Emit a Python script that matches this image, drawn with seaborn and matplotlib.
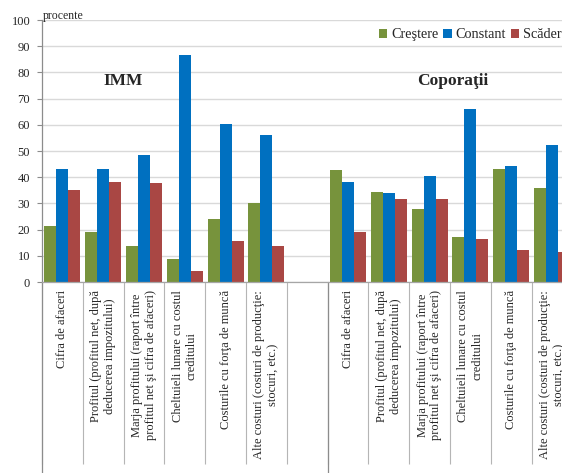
import numpy as np
import pandas as pd
import matplotlib
matplotlib.use("Agg")
import matplotlib.pyplot as plt
import seaborn as sns

# ---------------- data ----------------
indicators = [
    "Cifra de afaceri",
    "Profitul (profitul net, după\ndeducerea impozitului)",
    "Marja profitului (raport între\nprofitul net şi cifra de afaceri)",
    "Cheltuieli lunare cu costul\ncreditului",
    "Costurile cu forţa de muncă",
    "Alte costuri (costuri de producţie:\nstocuri, etc.)",
]
groups = ["IMM", "Coporaţii"]
series = ["Creştere", "Constant", "Scădere"]

imm_crestere = [21.5, 19.0, 13.6, 8.9, 23.9, 30.3]
imm_constant = [43.1, 43.1, 48.4, 86.6, 60.3, 56.1]
imm_scadere = [35.3, 38.0, 37.7, 4.1, 15.5, 13.6]

corp_crestere = [42.8, 34.4, 27.9, 17.1, 43.1, 35.7]
corp_constant = [38.0, 33.8, 40.6, 66.2, 44.2, 52.4]
corp_scadere = [19.0, 31.6, 31.6, 16.6, 12.4, 11.5]

colors = ["#77933C", "#0070C0", "#A94744"]

# ---------------- table ----------------
rows = []
values = {
    "IMM": [imm_crestere, imm_constant, imm_scadere],
    "Coporaţii": [corp_crestere, corp_constant, corp_scadere],
}
for g in groups:
    for s_idx, s in enumerate(series):
        for i, ind in enumerate(indicators):
            rows.append({"slot": f"{g}|{i}", "serie": s, "valoare": values[g][s_idx][i]})
df = pd.DataFrame(rows)

order = [f"IMM|{i}" for i in range(len(indicators))] + ["gap"] + \
        [f"Coporaţii|{i}" for i in range(len(indicators))]
tick_labels = indicators + [""] + indicators

# ---------------- plot ----------------
sns.set_theme(style="white")
plt.rcParams["font.family"] = ["Liberation Serif", "DejaVu Serif"]

fig = plt.figure(figsize=(5.62, 4.73), dpi=100)
ax = fig.add_axes([0.0747, 0.4038, 0.9438, 0.5539])

sns.barplot(data=df, x="slot", y="valoare", hue="serie", order=order,
            hue_order=series, palette=colors, width=0.88, saturation=1,
            linewidth=0, ax=ax)

ax.set_ylim(0, 100)
ax.set_xlim(-0.5, len(order) - 0.5)
ax.set_yticks(np.arange(0, 101, 10))
ax.set_xlabel("")
ax.set_ylabel("")

ax.yaxis.grid(True, color="#D9D9D9", linewidth=1.0)
ax.set_axisbelow(True)

for side in ["top", "right"]:
    ax.spines[side].set_visible(False)
ax.spines["left"].set_color("#8C8C8C")
ax.spines["left"].set_linewidth(0.9)
ax.spines["bottom"].set_color("#A6A6A6")
ax.spines["bottom"].set_linewidth(0.9)

ax.tick_params(axis="y", which="major", length=3.5, width=0.8, color="#8C8C8C",
               labelsize=9, pad=5, direction="out", left=True)

# category labels
ax.set_xticks(range(len(order)))
ax.set_xticklabels(tick_labels, rotation=90, fontsize=9, ha="center",
                   va="top", multialignment="center")
ax.tick_params(axis="x", which="major", length=0, pad=6)

# separators between categories
ax.set_xticks(np.arange(-0.5, len(order), 1.0), minor=True)
ax.tick_params(axis="x", which="minor", length=131, width=0.8,
               color="#B5B5B5", direction="out", bottom=True)
for xb in [-0.5, 6.5]:
    ax.axvline(xb, ymin=-0.73, ymax=0, color="#8C8C8C", linewidth=0.9,
               clip_on=False)

# group titles
ax.text(1.49, 76.7, groups[0], fontsize=12.5, fontweight="bold",
        ha="center", va="center")
ax.text(9.57, 76.7, groups[1], fontsize=12.5, fontweight="bold",
        ha="center", va="center")

# unit label
ax.text(0.002, 1.003, "procente", transform=ax.transAxes, fontsize=8.5,
        ha="left", va="baseline")

# legend
handles, labels = ax.get_legend_handles_labels()
ax.legend(handles, labels, ncol=3, frameon=False, loc="center left",
          bbox_to_anchor=(0.635, 0.944), fontsize=10.3,
          handlelength=0.6, handleheight=0.6, handletextpad=0.25,
          columnspacing=0.35, borderpad=0, borderaxespad=0)

fig.savefig("out.png", dpi=100)
